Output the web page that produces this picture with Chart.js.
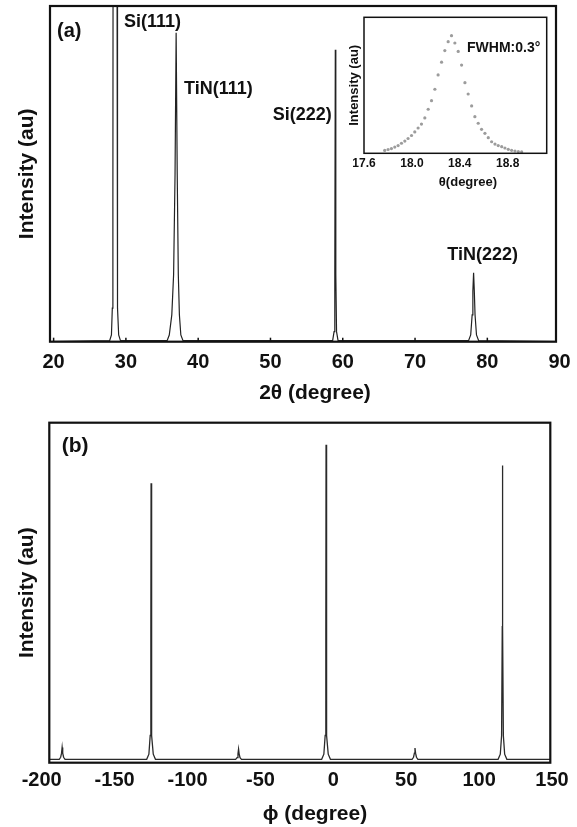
<!DOCTYPE html>
<html>
<head>
<meta charset="utf-8">
<script src="https://cdn.jsdelivr.net/npm/chart.js@4.4.1/dist/chart.umd.min.js"></script>
<style>
  html, body { margin: 0; padding: 0; background: #fff; }
  #wrap { position: relative; width: 577px; height: 827px; }
  canvas { position: absolute; }
</style>
</head>
<body>
<div id="wrap">
  <canvas id="chartA" width="577" height="415" style="left:0;top:0;width:577px;height:415px"></canvas>
  <canvas id="chartB" width="577" height="412" style="left:0;top:415px;width:577px;height:412px"></canvas>
  <canvas id="inset" width="214" height="185" style="left:338px;top:8px;width:214px;height:185px"></canvas>
</div>
<script>
// (a) 2-theta scan
const twoTheta = [19.5, 27.75, 28.0, 28.12, 28.2, 28.22, 28.5, 28.78, 28.8, 28.88, 29.0, 29.25,
  35.7, 36.0, 36.35, 36.6, 36.8, 36.95, 37.1, 37.25, 37.4, 37.6, 37.9,
  58.6, 58.8, 58.9, 58.97, 59.04, 59.14, 59.35,
  77.4, 77.7, 77.9, 78.0, 78.1, 78.2, 78.3, 78.5, 78.8, 89.5];
const intensityA = [0, 0.3, 2, 10, 40, 100, 4000, 100, 40, 10, 2, 0.3,
  0.3, 2, 8, 20, 50, 92, 50, 20, 8, 2, 0.3,
  0.3, 3, 20, 87, 20, 3, 0.3,
  0.3, 2, 8, 15, 20.5, 15, 8, 2, 0.3, 0];
const ticksA = [20, 30, 40, 50, 60, 70, 80, 90];

// inset: rocking curve
const theta = [17.773, 17.801, 17.829, 17.857, 17.885, 17.913, 17.941, 17.968, 17.997, 18.024,
  18.052, 18.080, 18.108, 18.136, 18.164, 18.192, 18.219, 18.248, 18.275, 18.303, 18.331,
  18.359, 18.387, 18.415, 18.443, 18.470, 18.499, 18.526, 18.554, 18.582, 18.610,
  18.638, 18.666, 18.694, 18.721, 18.750, 18.777, 18.805, 18.833, 18.861, 18.889, 18.917];
const intensityInset = [2.1, 2.8, 3.5, 4.6, 5.7, 7.4, 9.0, 10.9, 13.1, 15.7,
  18.6, 21.5, 26.0, 32.4, 38.7, 47.1, 57.6, 67.0, 75.5, 82.1, 86.5,
  81.1, 74.9, 64.9, 51.9, 43.6, 34.8, 26.9, 22.1, 17.6, 14.7,
  11.5, 8.5, 6.8, 5.7, 4.9, 3.9, 2.9, 2.2, 1.7, 1.3, 1.0];
const ticksInset = [17.6, 18.0, 18.4, 18.8];

// (b) phi scan
const phi = [-195, -188, -187, -186.4, -186, -185.6, -185, -184,
  -128, -126.5, -125.6, -125.15, -125, -124.85, -124.4, -123.5, -122,
  -67, -66, -65.4, -65, -64.6, -64, -63,
  -8, -6.5, -5.6, -5.15, -5, -4.85, -4.4, -3.5, -2,
  54, 55, 55.6, 56, 56.4, 57, 58,
  113, 114.5, 115.4, 115.85, 116, 116.15, 116.6, 117.5, 119, 149];
const intensityB = [1.0, 1.0, 1.6, 2.8, 4.5, 2.8, 1.6, 1.0,
  1.0, 2.5, 8, 40, 82.2, 40, 8, 2.5, 1.0,
  1.0, 1.5, 2.6, 4.0, 2.6, 1.5, 1.0,
  1.0, 2.5, 8, 40, 93.5, 40, 8, 2.5, 1.0,
  1.0, 1.6, 2.8, 4.3, 2.8, 1.6, 1.0,
  1.0, 2.5, 8, 40, 87.4, 40, 8, 2.5, 1.0, 1.0];
const ticksB = [-200, -150, -100, -50, 0, 50, 100, 150];

const FAM = "'Liberation Sans', Arial, Helvetica, sans-serif";
const INK = '#111';

function pts(xs, ys) { return xs.map((x, i) => ({x: x, y: ys[i]})); }

// frame, inner ticks and free labels
function decor(cfg) {
  return {
    id: 'decor',
    afterDraw(chart) {
      const ctx = chart.ctx, a = chart.chartArea;
      ctx.save();
      ctx.strokeStyle = INK;
      ctx.lineWidth = cfg.frame;
      ctx.strokeRect(a.left, a.top, a.right - a.left, a.bottom - a.top);
      if (cfg.tickLen) {
        const sx = chart.scales.x;
        ctx.lineWidth = 1.5;
        sx.ticks.forEach(t => {
          if (t.value <= sx.min || t.value >= sx.max) return;
          const px = sx.getPixelForValue(t.value);
          ctx.beginPath();
          ctx.moveTo(px, a.bottom);
          ctx.lineTo(px, a.bottom - cfg.tickLen);
          ctx.stroke();
        });
      }
      ctx.fillStyle = INK;
      ctx.textBaseline = 'middle';
      cfg.texts.forEach(t => {
        ctx.font = 'bold ' + t.size + 'px ' + FAM;
        ctx.textAlign = t.align || 'left';
        ctx.fillText(t.text, t.x, t.y);
      });
      ctx.restore();
    }
  };
}

function xScale(min, max, ticks, size, pad, height) {
  return {
    type: 'linear', min: min, max: max,
    afterBuildTicks: s => { s.ticks = ticks.map(v => ({value: v})); },
    afterFit: s => { s.height = height; s.paddingLeft = 0; s.paddingRight = 0; },
    grid: {display: false, drawTicks: false},
    border: {display: false},
    ticks: {font: {family: FAM, size: size, weight: 'bold'}, color: INK, padding: pad, maxRotation: 0, autoSkip: false}
  };
}

function yScale(width, size, pad) {
  return {
    min: 0, max: 100,
    afterFit: s => { s.width = width; s.paddingTop = 0; s.paddingBottom = 0; },
    ticks: {display: false},
    grid: {display: false, drawTicks: false},
    border: {display: false},
    title: {display: true, text: 'Intensity (au)', color: INK,
      font: {family: FAM, size: size, weight: 'bold'}, padding: {top: pad, bottom: 0}}
  };
}

const common = {
  responsive: false,
  animation: false,
  plugins: {legend: {display: false}, tooltip: {enabled: false}}
};

new Chart(document.getElementById('chartA'), {
  type: 'scatter',
  data: {datasets: [{data: pts(twoTheta, intensityA), showLine: true, pointRadius: 0,
    borderColor: '#222', borderWidth: 1.2, tension: 0}]},
  options: Object.assign({}, common, {
    layout: {padding: {top: 6, right: 21, bottom: 0, left: 0}},
    scales: {x: xScale(19.5, 89.5, ticksA, 20, 8.8, 73.3), y: yScale(50, 21, 15)}
  }),
  plugins: [decor({frame: 2.2, tickLen: 4, texts: [
    {text: '(a)', x: 57, y: 31.5, size: 20},
    {text: 'Si(111)', x: 124, y: 22.5, size: 18},
    {text: 'TiN(111)', x: 184, y: 89.3, size: 18},
    {text: 'Si(222)', x: 272.7, y: 115, size: 18},
    {text: 'TiN(222)', x: 482.7, y: 255, size: 18, align: 'center'},
    {text: '2θ (degree)', x: 315, y: 393, size: 21, align: 'center'}
  ]})]
});

new Chart(document.getElementById('inset'), {
  type: 'scatter',
  data: {datasets: [{data: pts(theta, intensityInset), showLine: false, pointRadius: 1.6,
    pointBorderWidth: 0, pointBackgroundColor: '#9c9c9c'}]},
  options: Object.assign({}, common, {
    layout: {padding: {top: 9.3, right: 5.3, bottom: 0, left: 0}},
    scales: {x: xScale(17.6, 19.126, ticksInset, 12, 3, 39.7), y: yScale(26, 13, 8.7)}
  }),
  plugins: [decor({frame: 1.5, tickLen: 0, texts: [
    {text: 'FWHM:0.3°', x: 129, y: 40, size: 14},
    {text: 'θ(degree)', x: 130, y: 174, size: 13, align: 'center'}
  ]})]
});

new Chart(document.getElementById('chartB'), {
  type: 'scatter',
  data: {datasets: [{data: pts(phi, intensityB), showLine: true, pointRadius: 0,
    borderColor: '#2a2a2a', borderWidth: 1.3, tension: 0}]},
  options: Object.assign({}, common, {
    layout: {padding: {top: 7.7, right: 26.7, bottom: 0, left: 0}},
    scales: {x: xScale(-194.8, 148.8, ticksB, 20, 5.3, 64.3), y: yScale(49.3, 21, 15)}
  }),
  plugins: [decor({frame: 2.2, tickLen: 0, texts: [
    {text: '(b)', x: 61.7, y: 31, size: 21},
    {text: 'ϕ (degree)', x: 315, y: 399, size: 21, align: 'center'}
  ]})]
});
</script>
</body>
</html>
